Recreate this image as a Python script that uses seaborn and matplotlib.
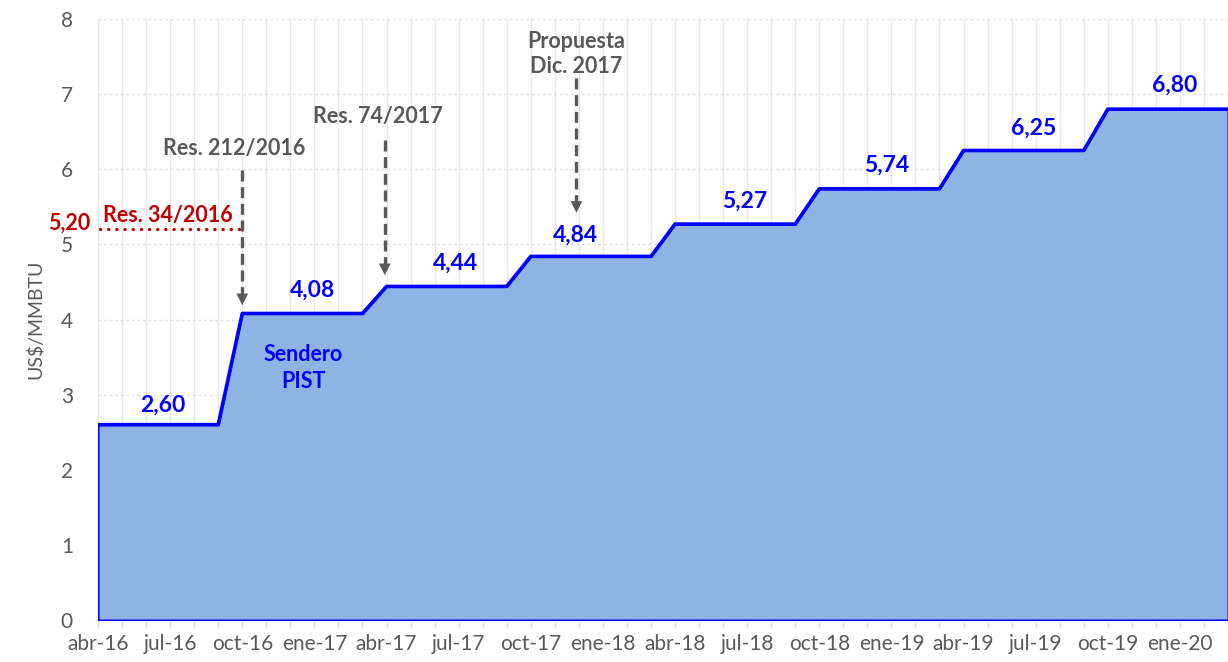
import numpy as np
import pandas as pd
import matplotlib
matplotlib.use('Agg')
import matplotlib.pyplot as plt
import seaborn as sns

# --- Data: monthly gas price path (US$/MMBTU), abr-16 .. mar-20 ---
months = ["abr-16", "may-16", "jun-16", "jul-16", "ago-16", "sep-16",
          "oct-16", "nov-16", "dic-16", "ene-17", "feb-17", "mar-17",
          "abr-17", "may-17", "jun-17", "jul-17", "ago-17", "sep-17",
          "oct-17", "nov-17", "dic-17", "ene-18", "feb-18", "mar-18",
          "abr-18", "may-18", "jun-18", "jul-18", "ago-18", "sep-18",
          "oct-18", "nov-18", "dic-18", "ene-19", "feb-19", "mar-19",
          "abr-19", "may-19", "jun-19", "jul-19", "ago-19", "sep-19",
          "oct-19", "nov-19", "dic-19", "ene-20", "feb-20", "mar-20"]
price = [2.60, 2.60, 2.60, 2.60, 2.60, 2.60,
         4.08, 4.08, 4.08, 4.08, 4.08, 4.08,
         4.44, 4.44, 4.44, 4.44, 4.44, 4.44,
         4.84, 4.84, 4.84, 4.84, 4.84, 4.84,
         5.27, 5.27, 5.27, 5.27, 5.27, 5.27,
         5.74, 5.74, 5.74, 5.74, 5.74, 5.74,
         6.25, 6.25, 6.25, 6.25, 6.25, 6.25,
         6.80, 6.80, 6.80, 6.80, 6.80, 6.80]

# value labels: (text, month index, y)
step_labels = ["2,60", "4,08", "4,44", "4,84", "5,27", "5,74", "6,25", "6,80"]
step_label_x = [2.68, 8.92, 14.86, 19.86, 26.88, 32.82, 38.9, 44.8]
step_label_y = [2.86, 4.39, 4.75, 5.12, 5.58, 6.06, 6.55, 7.12]

# regulation arrows: label, month index, label y, arrow start y, arrow end y
res_labels = ["Res. 212/2016", "Res. 74/2017", "Propuesta\nDic. 2017"]
res_x = [6.0, 11.93, 19.9]
res_label_x = [5.66, 11.64, 19.9]
res_label_y = [6.28, 6.70, 7.53]
res_arrow_top = [5.99, 6.39, 7.21]
res_arrow_bottom = [4.19, 4.59, 5.42]

res34_value = 5.20
res34_end = 5.86

df = pd.DataFrame({"idx": np.arange(len(months)), "mes": months, "precio": price})

sns.set_theme(style="white")
plt.rcParams['font.family'] = ['Lato', 'DejaVu Sans']

GRAY = "#595959"
BLUE = "#0000FF"
FILL = "#8EB4E3"
RED = "#C00000"

fig = plt.figure(figsize=(12.28, 6.62), dpi=100)
ax = fig.add_axes([98 / 1228, 42 / 662, 1130 / 1228, 601 / 662])

ax.fill_between(df["idx"], 0, df["precio"], color=FILL, edgecolor=BLUE,
                linewidth=1.5, zorder=2)
sns.lineplot(data=df, x="idx", y="precio", color=BLUE, linewidth=2.6,
             ax=ax, zorder=3)

ax.set_xlim(0, 46.65)
ax.set_ylim(0, 8)

# axes / ticks
ax.set_xticks(df["idx"])
ax.set_xticklabels([m if i % 3 == 0 else "" for i, m in enumerate(months)])
ax.set_yticks(range(0, 9))
ax.tick_params(axis="x", length=5, width=1, color="#D9D9D9",
               labelsize=15, pad=5, direction="out", bottom=True)
ax.tick_params(axis="y", length=0, labelsize=15, labelcolor=GRAY, pad=18)
for lab in ax.get_xticklabels():
    lab.set_color(GRAY)

ax.grid(axis="x", color="#E8E8E8", linewidth=1, zorder=0)
ax.grid(axis="y", color="#E0E0E0", linewidth=1, linestyle=(0, (2, 2)), zorder=0)
for s in ax.spines.values():
    s.set_visible(False)

ax.set_xlabel("")
ax.set_ylabel("US$/MMBTU", fontsize=14, color=GRAY, labelpad=12)

# value labels
for t, x, y in zip(step_labels, step_label_x, step_label_y):
    ax.text(x, y, t, color=BLUE, fontsize=16.5, fontweight="bold",
            ha="center", va="center", zorder=5)

ax.text(8.55, 3.35, "Sendero\nPIST", color=BLUE, fontsize=15.5,
        fontweight="bold", ha="center", va="center", linespacing=1.35, zorder=5)

# regulation arrows
for t, xa, xl, yl, y0, y1 in zip(res_labels, res_x, res_label_x, res_label_y,
                                 res_arrow_top, res_arrow_bottom):
    ax.text(xl, yl, t, color=GRAY, fontsize=15.5, fontweight="bold",
            ha="center", va="center", linespacing=1.25, zorder=5)
    ax.plot([xa, xa], [y0, y1 + 0.12], color=GRAY, linewidth=2.4,
            linestyle=(0, (3.3, 1.7)), zorder=4)
    ax.annotate("", xy=(xa, y1), xytext=(xa, y1 + 0.14),
                arrowprops=dict(arrowstyle="-|>,head_length=0.7,head_width=0.35",
                                color=GRAY, lw=0, shrinkA=0, shrinkB=0), zorder=4)

# Res. 34/2016 reference
ax.plot([0.1, res34_end], [res34_value, res34_value], color=RED, linewidth=2.4,
        linestyle=(0, (0.05, 2.4)), dash_capstyle="round", zorder=4)
ax.text(2.9, 5.38, "Res. 34/2016", color=RED, fontsize=15.5, fontweight="bold",
        ha="center", va="center", zorder=5)
ax.text(-1.19, 5.28, "5,20", color=RED, fontsize=15.5, fontweight="bold",
        ha="center", va="center", clip_on=False, zorder=5)

fig.savefig("out.png", dpi=100)
plt.close(fig)
